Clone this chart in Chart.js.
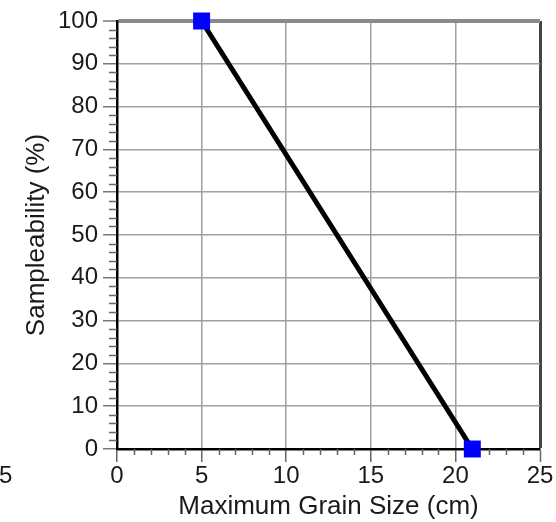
<!DOCTYPE html>
<html><head><meta charset="utf-8">
<script src="https://cdn.jsdelivr.net/npm/chart.js@4.4.1/dist/chart.umd.min.js"></script>
<style>html,body{margin:0;padding:0;background:#fff;overflow:hidden}</style>
</head><body>
<canvas id="c" width="556" height="522"></canvas>
<script>
// ---- data ----
const grainSize = [5, 21];          // Maximum Grain Size (cm)
const sampleability = [100, 0];     // Sampleability (%)
const xTickValues = [0, 5, 10, 15, 20, 25];
const yTickValues = [0, 10, 20, 30, 40, 50, 60, 70, 80, 90, 100];
const xMinorStep = 1;
const yMinorStep = 2;
const xTitle = 'Maximum Grain Size (cm)';
const yTitle = 'Sampleability (%)';
const strayLabel = '5';

const FONT = '"Liberation Sans", Arial, Helvetica, sans-serif';
const TXT = '#1a1a1a';

const minorTicks = {
  id: 'minorTicks',
  beforeDatasetsDraw(chart) {
    const {ctx, scales: {x, y}, chartArea: a} = chart;
    ctx.save();
    ctx.strokeStyle = '#666';
    ctx.lineWidth = 1.5;
    ctx.beginPath();
    for (let v = x.min; v <= x.max; v += xMinorStep) {
      if (xTickValues.includes(v)) continue;
      const px = Math.round(x.getPixelForValue(v)) + 0.5;
      ctx.moveTo(px, a.bottom); ctx.lineTo(px, a.bottom + 6);
    }
    for (let v = y.min; v <= y.max; v += yMinorStep) {
      if (yTickValues.includes(v)) continue;
      const py = Math.round(y.getPixelForValue(v)) + 0.5;
      ctx.moveTo(a.left, py); ctx.lineTo(a.left - 8, py);
    }
    ctx.stroke();
    // stray partial label at lower-left of the picture
    ctx.fillStyle = TXT;
    ctx.font = '24px ' + FONT;
    ctx.textAlign = 'left';
    ctx.textBaseline = 'middle';
    ctx.fillText(strayLabel, -1, a.bottom + 27);
    ctx.restore();
  }
};

new Chart(document.getElementById('c'), {
  type: 'scatter',
  data: {
    datasets: [{
      data: grainSize.map((g, i) => ({x: g, y: sampleability[i]})),
      showLine: true,
      borderColor: '#000',
      borderWidth: 5,
      pointStyle: 'rect',
      pointRadius: 12,
      pointHoverRadius: 12,
      pointBackgroundColor: '#0000ff',
      pointBorderColor: '#0000ff',
      pointBorderWidth: 0,
      clip: false
    }]
  },
  options: {
    responsive: false,
    animation: false,
    devicePixelRatio: 1,
    layout: {padding: {top: 21, right: 16, left: 0, bottom: 0}},
    plugins: {legend: {display: false}, tooltip: {enabled: false}},
    scales: {
      x: {
        type: 'linear',
        min: xTickValues[0], max: xTickValues[xTickValues.length - 1],
        afterBuildTicks: s => { s.ticks = xTickValues.map(v => ({value: v})); },
        afterFit: s => { s.height = 73; },
        ticks: {color: TXT, font: {family: FONT, size: 24}, padding: 0, maxRotation: 0},
        grid: {
          color: c => c.tick && c.tick.value === 25 ? '#444' : '#a0a0a0',
          lineWidth: c => c.tick && c.tick.value === 25 ? 3 : 1.5,
          tickLength: 13, tickColor: '#666', tickWidth: 1.5
        },
        border: {color: '#000', width: 2.5},
        title: {display: true, text: xTitle, color: TXT, font: {family: FONT, size: 26}, padding: {top: 0, bottom: 0}}
      },
      y: {
        type: 'linear',
        min: yTickValues[0], max: yTickValues[yTickValues.length - 1],
        afterBuildTicks: s => { s.ticks = yTickValues.map(v => ({value: v})); },
        afterFit: s => { s.width = 117; },
        ticks: {color: TXT, font: {family: FONT, size: 24}, padding: 5},
        grid: {
          color: c => c.tick && c.tick.value === 100 ? '#8a8a8a' : '#a0a0a0',
          lineWidth: c => c.tick && c.tick.value === 100 ? 4 : 1.5,
          tickLength: 14, tickColor: '#777', tickWidth: 1.5
        },
        border: {color: '#000', width: 2.5},
        title: {display: true, text: yTitle, color: TXT, font: {family: FONT, size: 26}, padding: {top: 21, bottom: 0}}
      }
    }
  },
  plugins: [minorTicks]
});
</script>
</body></html>
